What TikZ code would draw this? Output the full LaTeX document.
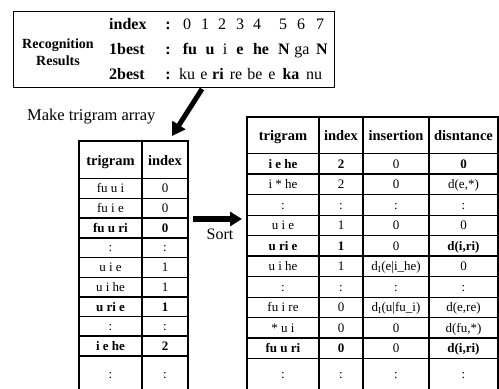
\documentclass[tikz,border=0pt]{standalone}
\usepackage{fontspec}
\setmainfont{Liberation Serif}
\usetikzlibrary{arrows.meta}
\begin{document}
\begin{tikzpicture}[x=1pt,y=-1pt,
  thinln/.style={line width=0.7pt},
  midln/.style={line width=1.2pt},
  thickln/.style={line width=1.8pt},
  hdr/.style={font=\fontsize{14.5}{15}\selectfont\bfseries, inner sep=0pt, anchor=base},
  cell/.style={font=\fontsize{13}{14}\selectfont, inner sep=0pt, anchor=base},
  bcell/.style={font=\fontsize{13}{14}\selectfont\bfseries, inner sep=0pt, anchor=base},
  topn/.style={font=\fontsize{16}{17}\selectfont, inner sep=0pt, anchor=base},
  topb/.style={font=\fontsize{16}{17}\selectfont\bfseries, inner sep=0pt, anchor=base},
  bigarrow/.style={line width=5pt, -{Triangle[width=15pt,length=13pt]}},
]
\useasboundingbox (0,0) rectangle (499,389);
\begin{scope}
\clip (0,0) rectangle (499,389);

% ---------- top box ----------
\node[draw, line width=1.3pt, anchor=north west, minimum width=321pt, minimum height=76pt, inner sep=0pt] (topbox) at (13,11) {};
\node[font=\fontsize{14}{15}\selectfont\bfseries, inner sep=0pt, anchor=base] (rec) at (58,48) {Recognition};
\node[font=\fontsize{14}{15}\selectfont\bfseries, inner sep=0pt, anchor=base] (res) at (58,65) {Results};
\node[topb, anchor=base west] (lidx) at (109,29) {index};
\node[topb, anchor=base west] (l1b) at (109,54) {1best};
\node[topb, anchor=base west] (l2b) at (109,79) {2best};
\node[topb] (c0) at (168,29) {:};
\node[topb] (c1) at (168,54) {:};
\node[topb] (c2) at (168,79) {:};
\foreach \x/\t [count=\k] in {187/0,205/1,222/2,240/3,257/4,283/5,301/6,320/7}
  \node[topn] (ix\k) at (\x,29) {\t};
\foreach \x/\t/\s [count=\k] in {190/fu/topb,210/u/topb,225/i/topn,240/e/topb,261/he/topb,284/N/topb,302/ga/topn,322/N/topb}
  \node[\s] (ob\k) at (\x,54) {\t};
\foreach \x/\t/\s [count=\k] in {187/ku/topn,204/e/topn,218/ri/topb,236/re/topn,255/be/topn,272/e/topn,291/ka/topb,314/nu/topn}
  \node[\s] (tb\k) at (\x,79) {\t};

% ---------- arrows and labels ----------
\node[font=\fontsize{16.5}{17}\selectfont, inner sep=0pt, anchor=base west] (make) at (27,120) {Make trigram array};
\coordinate (arrS) at (202,89);
\coordinate (arrE) at (172,136);
\draw[bigarrow] (arrS) -- (arrE);
\coordinate (sortS) at (193,219);
\coordinate (sortE) at (242,219);
\draw[line width=5.5pt, -{Triangle[width=14pt,length=12pt]}] (sortS) -- (sortE);
\node[font=\fontsize{16}{17}\selectfont, inner sep=0pt, anchor=base] (sort) at (220,239) {Sort};

% ---------- left table ----------
\draw[thickln] (79,400) -- (79,141) -- (188,141) -- (188,400);
\draw[midln] (142,141) -- (142,400);
\draw[thickln] (79,178.5) -- (188,178.5);
\foreach \k in {1,4,5}
  \draw[thinln] (79,178.5+\k*19.7) -- (188,178.5+\k*19.7);
\foreach \k in {2,3,6,7,8,9}
  \draw[thickln] (79,178.5+\k*19.7) -- (188,178.5+\k*19.7);
\node[hdr] (lth) at (110.5,165) {trigram};
\node[hdr] (lih) at (165,165) {index};
\foreach \t/\i/\s [count=\k] in {fu u i/0/cell, fu i e/0/cell, fu u ri/0/bcell, :/:/cell, u i e/1/cell, u i he/1/cell, u ri e/1/bcell, :/:/cell, i e he/2/bcell}{
  \node[\s] (lt\k) at (110.5,178.5+\k*19.7-9.85+4.5) {\t};
  \node[\s] (li\k) at (165,178.5+\k*19.7-9.85+4.5) {\i};
}
\node[cell] (lt10) at (110.5,378) {:};
\node[cell] (li10) at (165,378) {:};

% ---------- right table ----------
\draw[thickln] (247,400) -- (247,117) -- (498,117) -- (498,400);
\foreach \x in {319,363,429}
  \draw[midln] (\x,117) -- (\x,400);
\draw[thickln] (247,153.5) -- (498,153.5);
\foreach \k in {2,3,6,7}
  \draw[thinln] (247,153.5+\k*20.5) -- (498,153.5+\k*20.5);
\foreach \k in {1,4,5,8,9,10}
  \draw[thickln] (247,153.5+\k*20.5) -- (498,153.5+\k*20.5);
\node[hdr] (rth) at (283,140) {trigram};
\node[hdr] (rih) at (341,140) {index};
\node[hdr] (rnh) at (396,140) {insertion};
\node[hdr] (rdh) at (463.5,140) {disntance};
\foreach \t/\i/\n/\d/\s [count=\k] in {
  i e he/2/0/0/bcell,
  i * he/2/0/{d(e,*)}/cell,
  :/:/:/:/cell,
  u i e/1/0/0/cell,
  u ri e/1/0/{d(i,ri)}/bcell,
  u i he/1/{d\textsubscript{I}(e|i\_he)}/0/cell,
  :/:/:/:/cell,
  fu i re/0/{d\textsubscript{I}(u|fu\_i)}/{d(e,re)}/cell,
  * u i/0/0/{d(fu,*)}/cell,
  fu u ri/0/0/{d(i,ri)}/bcell}{
  \node[\s] (rt\k) at (283,153.5+\k*20.5-10.25+4.5) {\t};
  \node[\s] (ri\k) at (341,153.5+\k*20.5-10.25+4.5) {\i};
  \node[cell] (rn\k) at (396,153.5+\k*20.5-10.25+4.5) {\n};
  \node[\s] (rd\k) at (463.5,153.5+\k*20.5-10.25+4.5) {\d};
}
\foreach \x [count=\k] in {283,341,396,463.5}
  \node[cell] (rl\k) at (\x,378) {:};
\end{scope}
\end{tikzpicture}
\end{document}
